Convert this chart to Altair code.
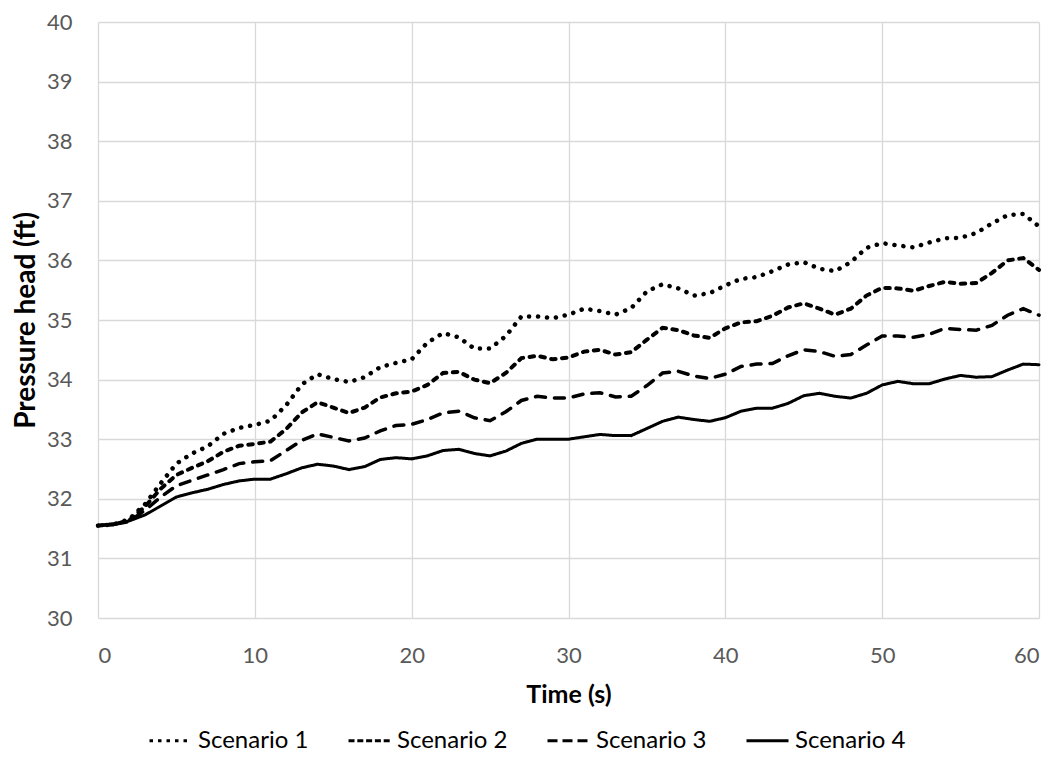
import altair as alt
import pandas as pd

time_s = list(range(0, 61))

scenario_1 = [31.55, 31.57, 31.66, 31.91, 32.26, 32.59, 32.76, 32.88, 33.09, 33.19,
              33.24, 33.31, 33.57, 33.92, 34.09, 34.01, 33.96, 34.04, 34.21, 34.28,
              34.34, 34.62, 34.78, 34.71, 34.52, 34.52, 34.73, 35.06, 35.06, 35.03,
              35.09, 35.19, 35.15, 35.09, 35.20, 35.48, 35.60, 35.53, 35.41, 35.45,
              35.58, 35.69, 35.72, 35.82, 35.93, 35.97, 35.86, 35.82, 35.97, 36.21,
              36.29, 36.25, 36.22, 36.30, 36.37, 36.38, 36.46, 36.62, 36.76, 36.78,
              36.57]
scenario_2 = [31.55, 31.57, 31.64, 31.87, 32.17, 32.40, 32.52, 32.63, 32.79, 32.89,
              32.92, 32.96, 33.17, 33.45, 33.62, 33.53, 33.44, 33.53, 33.70, 33.77,
              33.80, 33.91, 34.11, 34.13, 34.00, 33.94, 34.11, 34.36, 34.40, 34.34,
              34.37, 34.47, 34.50, 34.42, 34.46, 34.67, 34.87, 34.83, 34.74, 34.70,
              34.86, 34.96, 34.98, 35.07, 35.21, 35.28, 35.19, 35.09, 35.19, 35.41,
              35.54, 35.53, 35.49, 35.57, 35.64, 35.61, 35.62, 35.79, 36.00, 36.04,
              35.84]
scenario_3 = [31.55, 31.57, 31.62, 31.81, 32.03, 32.22, 32.31, 32.40, 32.49, 32.59,
              32.62, 32.64, 32.81, 32.98, 33.09, 33.03, 32.97, 33.02, 33.14, 33.23,
              33.25, 33.33, 33.44, 33.47, 33.36, 33.31, 33.46, 33.65, 33.72, 33.69,
              33.69, 33.76, 33.78, 33.71, 33.72, 33.90, 34.11, 34.14, 34.06, 34.02,
              34.09, 34.22, 34.26, 34.27, 34.40, 34.50, 34.47, 34.39, 34.42, 34.58,
              34.73, 34.73, 34.71, 34.76, 34.86, 34.84, 34.83, 34.91, 35.08, 35.19,
              35.08]
scenario_4 = [31.55, 31.58, 31.63, 31.73, 31.88, 32.03, 32.10, 32.16, 32.24, 32.30,
              32.33, 32.33, 32.42, 32.52, 32.58, 32.55, 32.49, 32.54, 32.66, 32.69,
              32.67, 32.72, 32.81, 32.83, 32.76, 32.72, 32.80, 32.93, 33.00, 33.00,
              33.00, 33.04, 33.08, 33.06, 33.06, 33.18, 33.30, 33.37, 33.33, 33.30,
              33.36, 33.47, 33.52, 33.52, 33.60, 33.73, 33.77, 33.72, 33.69, 33.77,
              33.91, 33.97, 33.93, 33.93, 34.01, 34.07, 34.04, 34.05, 34.16, 34.26,
              34.25]

scenario_names = ["Scenario 1", "Scenario 2", "Scenario 3", "Scenario 4"]
x_ticks = [0, 10, 20, 30, 40, 50, 60]
y_ticks = [30, 31, 32, 33, 34, 35, 36, 37, 38, 39, 40]

series = [scenario_1, scenario_2, scenario_3, scenario_4]
rows = []
for name, vals in zip(scenario_names, series):
    for t, v in zip(time_s, vals):
        rows.append({"Time": t, "Pressure": v, "Scenario": name})
df = pd.DataFrame(rows)
# one point per scenario: draws no visible line, only feeds the legend
df_legend = df[df["Time"] == 0]

FONT = "Lato"

x_enc = alt.X("Time:Q", scale=alt.Scale(domain=[0, 60], nice=False),
              axis=alt.Axis(title="Time (s)", values=x_ticks, format="d",
                            labelPadding=27, titlePadding=16, titleFontSize=25))
y_enc = alt.Y("Pressure:Q", scale=alt.Scale(domain=[30, 40], nice=False, zero=False),
              axis=alt.Axis(title="Pressure head (ft)", values=y_ticks, format="d",
                            labelPadding=26, titlePadding=6, titleFontSize=28))

lines = alt.Chart(df).mark_line(color="black", strokeCap="round").encode(
    x=x_enc,
    y=y_enc,
    strokeDash=alt.StrokeDash(
        "Scenario:N",
        scale=alt.Scale(domain=scenario_names,
                        range=[[0.1, 8.9], [4.5, 6.5], [10, 9], [1, 0]]),
        legend=None,
    ),
    strokeWidth=alt.StrokeWidth(
        "Scenario:N",
        scale=alt.Scale(domain=scenario_names, range=[4.5, 3, 3, 2.6]),
        legend=None,
    ),
    order="Time:Q",
)

legend_layer = alt.Chart(df_legend).mark_line(color="black", strokeWidth=3,
                                              strokeCap="butt").encode(
    x=x_enc,
    y=y_enc,
    strokeDash=alt.StrokeDash(
        "Scenario:N",
        scale=alt.Scale(domain=scenario_names,
                        range=[[3.5, 5], [6, 2.8], [10, 5], [1, 0]]),
        legend=alt.Legend(orient="none", legendX=50, legendY=696, direction="horizontal",
                          columns=4, title=None, symbolType="stroke", symbolSize=1764,
                          symbolStrokeWidth=3, symbolStrokeColor="black",
                          labelFontSize=24, labelFont=FONT, labelColor="black",
                          labelOffset=5, columnPadding=33),
    ),
)

chart = alt.layer(lines, legend_layer).resolve_scale(
    strokeDash="independent"
).properties(
    width=941,
    height=596,
    autosize=alt.AutoSizeParams(type="none"),
    padding={"left": 90, "top": 14, "right": 13, "bottom": 134},
).configure_axis(
    grid=True,
    gridColor="#d9d9d9",
    gridWidth=1.3,
    domain=False,
    ticks=False,
    labelFont=FONT,
    labelFontSize=22,
    labelColor="#595959",
    titleFont=FONT,
    titleFontWeight="bold",
    titleColor="black",
).configure_view(
    stroke=None,
)

chart.save("out.html", embed_options={"renderer": "svg", "actions": False})
